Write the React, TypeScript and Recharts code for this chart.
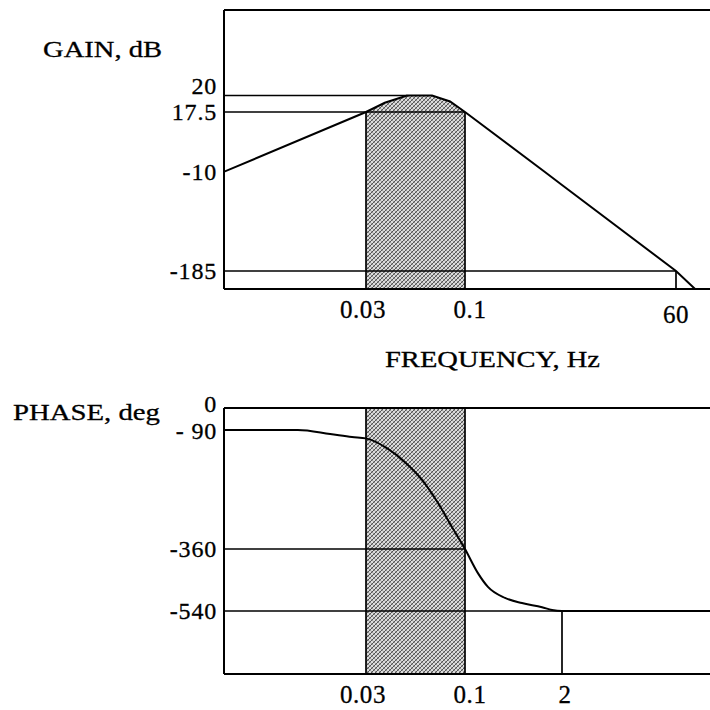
import React from 'react'
import { ComposedChart, Line, Area, XAxis, YAxis, ReferenceLine, ReferenceArea } from 'recharts'

const FONT = '"Liberation Serif", "Times New Roman", "DejaVu Serif", serif'

// gain curve (Hz, dB)
const gainFreq = [0.0053, 0.03, 0.0377, 0.0495, 0.067, 0.0834, 0.1, 1.18, 2, 60, 106]
const gainDb = [-10, 17.5, 18.9, 20, 20, 19.1, 17.5, -10, -33, -185, -217]

// phase curve (Hz, deg)
const phaseFreq = [0.0053, 0.0131, 0.0194, 0.0253, 0.03, 0.0392, 0.0482, 0.0593, 0.0719, 0.0853, 0.1, 0.149, 0.203, 0.344, 0.581, 1.08, 1.47, 2, 200]
const phaseDeg = [-90, -90, -99, -106, -109, -133, -163, -203, -255, -310, -360, -430, -470, -502, -517, -529, -537, -540, -540]

const bandHz = [0.03, 0.1]

const gainTickDb = [20, 17.5, -10, -185]
const gainTickText = ['20', '17.5', '-10', '-185']
const phaseTickDeg = [0, -90, -360, -540]
const phaseTickText = ['0', '- 90', '-360', '-540']
const gainFreqTicks = [0.03, 0.1, 60]
const gainFreqText = ['0.03', '0.1', '60']
const phaseFreqTicks = [0.03, 0.1, 2]
const phaseFreqText = ['0.03', '0.1', '2']

// the sketch is not to scale, every axis is piecewise -> map values onto it
const freqStops = [0.03, 0.1, 2, 60]
const freqStopPx = [142, 241, 338, 452]
const gainStops = [-217, -185, -10, 17.5, 20]
const gainStopPx = [0, 18, 117, 177, 193.5]
const phaseStops = [-720, -540, -360, -90, 0]
const phaseStopPx = [0, 63, 125, 244, 266]

const X_MAX = 496
const GAIN_TOP = 279
const PHASE_TOP = 266

function piecewise(v: number, xs: number[], ys: number[]) {
  let i = 0
  while (i < xs.length - 2 && v > xs[i + 1]) i++
  const t = (v - xs[i]) / (xs[i + 1] - xs[i])
  return ys[i] + t * (ys[i + 1] - ys[i])
}
const logStops = freqStops.map((s) => Math.log10(s))
const fx = (f: number) => piecewise(Math.log10(f), logStops, freqStopPx)
const gy = (d: number) => piecewise(d, gainStops, gainStopPx)
const py = (d: number) => piecewise(d, phaseStops, phaseStopPx)

const gainRows = gainFreq.map((f, i) => ({ x: fx(f), u: gy(gainDb[i]) }))
const bumpRows = gainRows.filter((_, i) => gainFreq[i] >= bandHz[0] && gainFreq[i] <= bandHz[1])
const phaseRows = phaseFreq.map((f, i) => ({ x: fx(f), u: py(phaseDeg[i]) }))

const nudgeY: Record<string, number> = { '20': -9.5, '0': -4, '- 90': 1 }
const nudgeX: Record<string, number> = { '0.03': -3, '0.1': 5, '2': 3 }
const dropX: Record<string, number> = { '60': 5 }

function pick(values: number[], texts: string[], v: number) {
  let best = 0
  values.forEach((w, i) => {
    if (Math.abs(w - v) < Math.abs(values[best] - v)) best = i
  })
  return texts[best]
}

const inkText = { fontFamily: FONT, fill: '#000', stroke: '#000', strokeWidth: 0.3 }

function yTick(values: number[], texts: string[]) {
  return (p: any) => {
    const t = pick(values, texts, p.payload.value)
    return (
      <text x={p.x + 1} y={p.y + (nudgeY[t] || 0)} dy={8} textAnchor="end" fontSize={24} letterSpacing={0.8} {...inkText}>
        {t}
      </text>
    )
  }
}

function xTick(values: number[], texts: string[]) {
  return (p: any) => {
    const t = pick(values, texts, p.payload.value)
    return (
      <text x={p.x + (nudgeX[t] || 0)} y={p.y + 21 + (dropX[t] || 0)} textAnchor="middle" fontSize={25} letterSpacing={0.6} {...inkText}>
        {t}
      </text>
    )
  }
}

const Hatch = ({ id }: { id: string }) => (
  <defs>
    <pattern id={id} width="4" height="4" patternUnits="userSpaceOnUse">
      <rect width="4" height="4" fill="#dcdcdc" />
      <path d="M0,4 L4,0 M-1,1 L1,-1 M3,5 L5,3" stroke="#1a1a1a" strokeWidth="0.7" />
      <path d="M0,0 L4,4 M-1,3 L1,5 M3,-1 L5,1" stroke="#555" strokeWidth="0.5" />
    </pattern>
  </defs>
)

const ln = { stroke: '#000', strokeWidth: 1.7 }
const axisLn = { stroke: '#000', strokeWidth: 2 }

export default function App() {
  return (
    <div style={{ position: 'absolute', left: 0, top: 0, width: 710, height: 710, overflow: 'hidden', background: '#fff' }}>
      <div style={{ position: 'absolute', left: 0, top: 0 }}>
        <ComposedChart width={720} height={330} margin={{ top: 10, right: 0, bottom: 0, left: 0 }}>
          <Hatch id="hatchGain" />
          <XAxis type="number" dataKey="x" domain={[0, X_MAX]} allowDataOverflow ticks={gainFreqTicks.map(fx)} interval={0}
            tick={xTick(gainFreqTicks.map(fx), gainFreqText)} tickLine={false} axisLine={axisLn} height={41} />
          <YAxis type="number" dataKey="u" domain={[0, GAIN_TOP]} allowDataOverflow ticks={gainTickDb.map(gy)} interval={0}
            tick={yTick(gainTickDb.map(gy), gainTickText)} tickLine={false} axisLine={axisLn} width={224} />
          <Area data={bumpRows} dataKey="u" type="linear" baseValue={0} stroke="none" fill="url(#hatchGain)" fillOpacity={1} isAnimationActive={false} />
          <ReferenceLine y={GAIN_TOP} {...axisLn} />
          <ReferenceLine segment={[{ x: 0, y: gy(gainTickDb[0]) }, { x: fx(gainFreq[3]), y: gy(gainTickDb[0]) }]} {...ln} />
          <ReferenceLine segment={[{ x: 0, y: gy(gainTickDb[1]) }, { x: fx(bandHz[1]), y: gy(gainTickDb[1]) }]} {...ln} />
          <ReferenceLine segment={[{ x: 0, y: gy(gainTickDb[3]) }, { x: fx(gainFreqTicks[2]), y: gy(gainTickDb[3]) }]} {...ln} />
          <ReferenceLine segment={[{ x: fx(gainFreqTicks[2]), y: gy(gainTickDb[3]) }, { x: fx(gainFreqTicks[2]), y: 0 }]} {...ln} />
          <ReferenceLine segment={[{ x: fx(bandHz[0]), y: 0 }, { x: fx(bandHz[0]), y: gy(gainTickDb[1]) }]} {...ln} />
          <ReferenceLine segment={[{ x: fx(bandHz[1]), y: 0 }, { x: fx(bandHz[1]), y: gy(gainTickDb[1]) }]} {...ln} />
          <Line data={gainRows} dataKey="u" type="linear" stroke="#000" strokeWidth={2} dot={false} isAnimationActive={false} />
        </ComposedChart>
      </div>

      <div style={{ position: 'absolute', left: 0, top: 380 }}>
        <ComposedChart width={720} height={330} margin={{ top: 28, right: 0, bottom: 0, left: 0 }}>
          <Hatch id="hatchPhase" />
          <XAxis type="number" dataKey="x" domain={[0, X_MAX]} allowDataOverflow ticks={phaseFreqTicks.map(fx)} interval={0}
            tick={xTick(phaseFreqTicks.map(fx), phaseFreqText)} tickLine={false} axisLine={axisLn} height={36} />
          <YAxis type="number" dataKey="u" domain={[0, PHASE_TOP]} allowDataOverflow ticks={phaseTickDeg.map(py)} interval={0}
            tick={yTick(phaseTickDeg.map(py), phaseTickText)} tickLine={false} axisLine={axisLn} width={224} />
          <ReferenceArea x1={fx(bandHz[0])} x2={fx(bandHz[1])} y1={0} y2={PHASE_TOP} fill="url(#hatchPhase)" fillOpacity={1} stroke="#000" strokeWidth={1.7} />
          <ReferenceLine y={PHASE_TOP} {...axisLn} />
          <ReferenceLine segment={[{ x: 0, y: py(phaseTickDeg[2]) }, { x: fx(bandHz[1]), y: py(phaseTickDeg[2]) }]} {...ln} />
          <ReferenceLine y={py(phaseTickDeg[3])} {...ln} />
          <ReferenceLine segment={[{ x: fx(phaseFreqTicks[2]), y: py(phaseTickDeg[3]) }, { x: fx(phaseFreqTicks[2]), y: 0 }]} {...ln} />
          <Line data={phaseRows} dataKey="u" type="monotone" stroke="#000" strokeWidth={2} dot={false} isAnimationActive={false} />
        </ComposedChart>
      </div>

      <svg width={710} height={710} style={{ position: 'absolute', left: 0, top: 0, pointerEvents: 'none' }}>
        <text x={43} y={57} fontSize={24} textLength={119} lengthAdjust="spacingAndGlyphs" {...inkText}>GAIN, dB</text>
        <text x={385} y={367} fontSize={24} textLength={215} lengthAdjust="spacingAndGlyphs" {...inkText}>FREQUENCY, Hz</text>
        <text x={13} y={420} fontSize={24} textLength={147} lengthAdjust="spacingAndGlyphs" {...inkText}>PHASE, deg</text>
      </svg>
    </div>
  )
}
